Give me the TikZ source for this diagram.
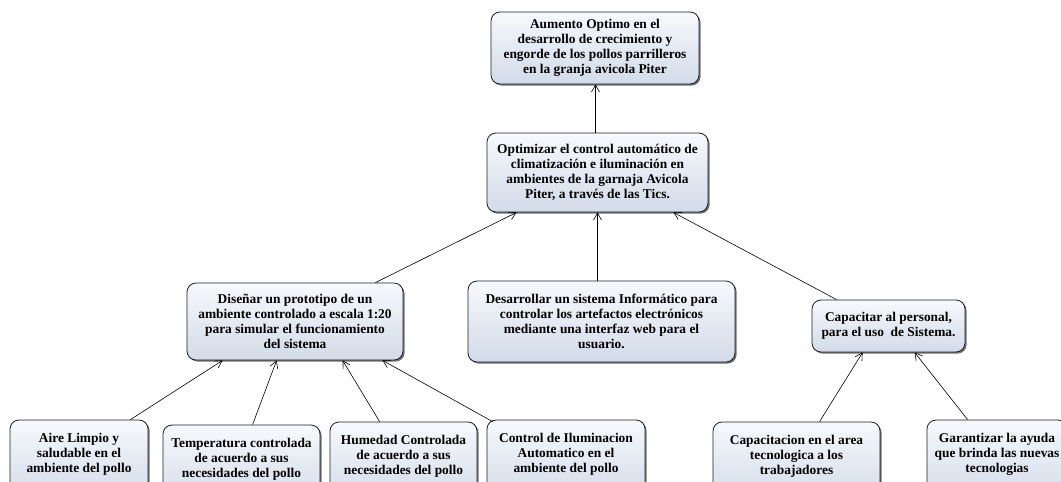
\documentclass[tikz,border=0pt]{standalone}
\usepackage{fontspec}
\setmainfont{Liberation Serif}
\usetikzlibrary{arrows.meta,shadows}

\definecolor{boxtop}{RGB}{247,249,252}
\definecolor{boxbot}{RGB}{210,219,233}
\definecolor{boxline}{RGB}{30,30,30}

\tikzset{
  box/.style={
    draw=boxline, line width=0.8pt, rounded corners=9pt,
    top color=boxtop, bottom color=boxbot,
    drop shadow={shadow xshift=1.6pt, shadow yshift=-1.6pt, fill=black!70, opacity=0.8},
    align=center, inner sep=2pt,
    font=\fontsize{13.4}{15}\selectfont\bfseries},
  link/.style={draw=black, line width=0.6pt, -{Straight Barb[length=7pt,width=8pt,line width=0.6pt]}}
}

\begin{document}
\begin{tikzpicture}[x=1pt,y=-1pt]
\useasboundingbox (0,0) rectangle (1061,482);
\clip (0,0) rectangle (1061,482);

% goal and purpose
\node[box, minimum width=208pt, minimum height=72pt] (top) at (595,48)
  {Aumento Optimo en el\\desarrollo de crecimiento y\\engorde de los pollos parrilleros\\en la granja avicola Piter};
\node[box, minimum width=221pt, minimum height=79pt] (mid) at (597.5,172.5)
  {Optimizar el control automático de\\climatización e iluminación en\\ambientes de la garnaja Avicola\\Piter, a través de las Tics.};

% components
\node[box, minimum width=216pt, minimum height=77pt] (dis) at (295,321.5)
  {Diseñar un prototipo de un\\ambiente controlado a escala 1:20\\para simular el funcionamiento\\del sistema};
\node[box, minimum width=267pt, minimum height=81pt] (des) at (601.5,321.5)
  {Desarrollar un sistema Informático para\\controlar los artefactos electrónicos\\mediante una interfaz web para el\\usuario.};
\node[box, minimum width=153pt, minimum height=52pt] (cap) at (888.5,326)
  {Capacitar al personal,\\para el uso\ \ de Sistema.};

% activities (boxes run past the lower edge; an empty last line keeps the text high)
\node[box, minimum width=138pt, minimum height=80pt] (aire) at (79,460)
  {Aire Limpio y\\saludable en el\\ambiente del pollo\\\mbox{}};
\node[box, minimum width=157pt, minimum height=80pt] (temp) at (241.5,465)
  {Temperatura controlada\\de acuerdo a sus\\necesidades del pollo\\\mbox{}};
\node[box, minimum width=147pt, minimum height=80pt] (hum) at (403.5,462)
  {Humedad Controlada\\de acuerdo a sus\\necesidades del pollo\\\mbox{}};
\node[box, minimum width=158pt, minimum height=80pt] (ctrl) at (566,460)
  {Control de Iluminacion\\Automatico en el\\ambiente del pollo\\\mbox{}};
\node[box, minimum width=167pt, minimum height=80pt] (capn) at (796.5,462)
  {Capacitacion en el area\\tecnologica a los\\trabajadores\\\mbox{}};
\node[box, minimum width=140pt, minimum height=80pt] (gar) at (997,460)
  {Garantizar la ayuda\\que brinda las nuevas\\tecnologias\\\mbox{}};

% connectors
\draw[link] ([xshift=-2pt]mid.north) -- ([xshift=-2pt]mid.north |- top.south);
\draw[link] ([xshift=-28pt]dis.north east) -- ([xshift=30pt]mid.south west);
\draw[link] ([xshift=-4pt]des.north) -- ([xshift=-4pt]des.north |- mid.south);
\draw[link] ([xshift=25pt]cap.north west) -- ([xshift=-35pt]mid.south east);

\draw[link] ([xshift=-18pt]aire.north east) -- ([xshift=36pt]dis.south west);
\draw[link] ([xshift=90pt]temp.north west) -- ([xshift=90pt]dis.south west);
\draw[link] ([xshift=50pt]hum.north west) -- ([xshift=156pt]dis.south west);
\draw[link] ([xshift=6pt,yshift=-2pt]ctrl.north west) -- ([xshift=196pt]dis.south west);

\draw[link] ([xshift=107pt]capn.north west) -- ([xshift=51pt]cap.south west);
\draw[link] ([xshift=41pt]gar.north west) -- ([xshift=103pt]cap.south west);
\end{tikzpicture}
\end{document}
